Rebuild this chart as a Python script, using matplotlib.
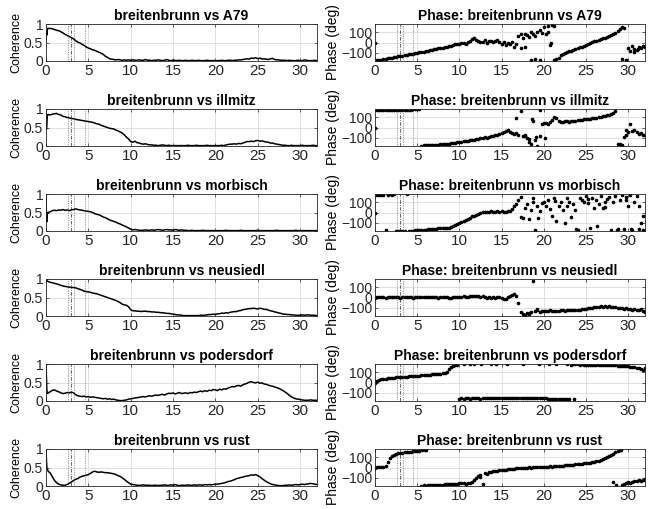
import numpy as np
import matplotlib
matplotlib.use("Agg")
import matplotlib.pyplot as plt

plt.rcParams['font.family'] = ['Liberation Sans', 'DejaVu Sans']

stations = ["A79", "illmitz", "morbisch", "neusiedl", "podersdorf", "rust"]
reference = "breitenbrunn"

# ---------- coherence: low-frequency spike region (f = 0 .. 0.2) ----------
coh_spike_f = [0.0, 0.05, 0.1, 0.15, 0.2]
coh_spike_A79 = [0.60, 0.80, 0.70, 0.85, 0.88]
coh_spike_illmitz = [0.95, 0.45, 0.60, 0.80, 0.85]
coh_spike_morbisch = [1.00, 0.30, 0.25, 0.45, 0.50]
coh_spike_neusiedl = [0.97, 0.96, 0.95, 0.95, 0.94]
coh_spike_podersdorf = [1.00, 0.60, 0.30, 0.22, 0.20]
coh_spike_rust = [1.00, 0.70, 0.50, 0.45, 0.43]

# ---------- coherence on grid f = 0.25 .. 32 (step 0.25) ----------
coh_A79 = [
    0.88, 0.88, 0.87, 0.85, 0.83, 0.82, 0.79, 0.76, 0.72, 0.69, 0.66, 0.63, 0.60, 0.55, 0.51, 0.49,
    0.45, 0.42, 0.38, 0.35, 0.33, 0.30, 0.29, 0.26, 0.24, 0.21, 0.18, 0.13, 0.10, 0.06, 0.05, 0.04,
    0.03, 0.04, 0.03, 0.02, 0.03, 0.02, 0.03, 0.02, 0.03, 0.02, 0.02, 0.03, 0.02, 0.02, 0.04, 0.02,
    0.02, 0.01, 0.02, 0.02, 0.03, 0.02, 0.01, 0.02, 0.04, 0.02, 0.01, 0.02, 0.02, 0.01, 0.02, 0.01,
    0.01, 0.02, 0.01, 0.01, 0.02, 0.01, 0.01, 0.02, 0.01, 0.01, 0.01, 0.02, 0.01, 0.01, 0.01, 0.01,
    0.01, 0.01, 0.02, 0.01, 0.01, 0.02, 0.02, 0.01, 0.02, 0.02, 0.03, 0.03, 0.04, 0.05, 0.06, 0.05,
    0.08, 0.07, 0.09, 0.06, 0.08, 0.05, 0.06, 0.05, 0.04, 0.06, 0.07, 0.04, 0.03, 0.03, 0.02, 0.02,
    0.02, 0.01, 0.02, 0.01, 0.01, 0.01, 0.02, 0.01, 0.01, 0.03, 0.02, 0.01, 0.01, 0.01, 0.02, 0.01,
]
coh_illmitz = [
    0.85, 0.84, 0.86, 0.87, 0.88, 0.85, 0.84, 0.80, 0.79, 0.77, 0.76, 0.74, 0.74, 0.72, 0.71, 0.70,
    0.69, 0.68, 0.67, 0.66, 0.65, 0.64, 0.62, 0.60, 0.59, 0.56, 0.54, 0.52, 0.50, 0.48, 0.47, 0.46,
    0.43, 0.41, 0.38, 0.35, 0.30, 0.24, 0.19, 0.12, 0.10, 0.13, 0.09, 0.08, 0.06, 0.05, 0.06, 0.04,
    0.03, 0.03, 0.02, 0.02, 0.01, 0.02, 0.03, 0.02, 0.01, 0.02, 0.01, 0.01, 0.01, 0.01, 0.01, 0.01,
    0.01, 0.01, 0.02, 0.01, 0.01, 0.01, 0.02, 0.01, 0.01, 0.01, 0.01, 0.02, 0.01, 0.01, 0.01, 0.01,
    0.01, 0.01, 0.02, 0.01, 0.03, 0.04, 0.05, 0.05, 0.06, 0.05, 0.07, 0.06, 0.08, 0.10, 0.12, 0.12,
    0.13, 0.12, 0.14, 0.15, 0.13, 0.14, 0.12, 0.11, 0.10, 0.08, 0.08, 0.06, 0.05, 0.04, 0.03, 0.02,
    0.02, 0.01, 0.01, 0.02, 0.01, 0.01, 0.01, 0.01, 0.02, 0.01, 0.01, 0.01, 0.01, 0.02, 0.01, 0.01,
]
coh_morbisch = [
    0.50, 0.52, 0.55, 0.56, 0.55, 0.57, 0.56, 0.58, 0.56, 0.57, 0.55, 0.57, 0.58, 0.60, 0.58, 0.57,
    0.56, 0.55, 0.54, 0.53, 0.52, 0.50, 0.47, 0.45, 0.44, 0.41, 0.38, 0.36, 0.33, 0.30, 0.28, 0.26,
    0.24, 0.21, 0.19, 0.16, 0.14, 0.11, 0.08, 0.05, 0.03, 0.04, 0.03, 0.02, 0.02, 0.02, 0.03, 0.02,
    0.02, 0.03, 0.02, 0.03, 0.04, 0.03, 0.02, 0.03, 0.04, 0.03, 0.03, 0.02, 0.04, 0.03, 0.02, 0.03,
    0.02, 0.02, 0.01, 0.01, 0.02, 0.01, 0.01, 0.01, 0.01, 0.02, 0.01, 0.01, 0.01, 0.01, 0.01, 0.01,
    0.01, 0.01, 0.01, 0.01, 0.02, 0.01, 0.01, 0.01, 0.01, 0.01, 0.01, 0.02, 0.01, 0.01, 0.01, 0.01,
    0.01, 0.01, 0.01, 0.02, 0.01, 0.01, 0.01, 0.01, 0.01, 0.01, 0.01, 0.01, 0.02, 0.01, 0.01, 0.01,
    0.01, 0.01, 0.01, 0.01, 0.01, 0.02, 0.01, 0.01, 0.01, 0.01, 0.01, 0.01, 0.01, 0.01, 0.01, 0.01,
]
coh_neusiedl = [
    0.93, 0.91, 0.90, 0.88, 0.87, 0.85, 0.83, 0.81, 0.80, 0.79, 0.78, 0.77, 0.77, 0.76, 0.74, 0.72,
    0.70, 0.67, 0.66, 0.65, 0.64, 0.62, 0.61, 0.60, 0.58, 0.56, 0.54, 0.52, 0.50, 0.48, 0.46, 0.44,
    0.42, 0.39, 0.36, 0.32, 0.30, 0.29, 0.25, 0.17, 0.14, 0.14, 0.13, 0.13, 0.12, 0.13, 0.13, 0.12,
    0.12, 0.11, 0.11, 0.10, 0.10, 0.09, 0.09, 0.08, 0.07, 0.07, 0.06, 0.05, 0.04, 0.03, 0.03, 0.02,
    0.01, 0.01, 0.01, 0.01, 0.01, 0.01, 0.01, 0.01, 0.02, 0.02, 0.02, 0.03, 0.04, 0.04, 0.05, 0.04,
    0.06, 0.06, 0.08, 0.07, 0.09, 0.08, 0.10, 0.11, 0.12, 0.12, 0.14, 0.15, 0.17, 0.18, 0.19, 0.20,
    0.20, 0.21, 0.20, 0.19, 0.21, 0.20, 0.18, 0.18, 0.16, 0.14, 0.13, 0.11, 0.10, 0.08, 0.07, 0.05,
    0.05, 0.04, 0.04, 0.03, 0.03, 0.02, 0.02, 0.02, 0.03, 0.02, 0.03, 0.03, 0.02, 0.02, 0.02, 0.01,
]
coh_podersdorf = [
    0.22, 0.25, 0.29, 0.30, 0.27, 0.25, 0.22, 0.20, 0.21, 0.23, 0.22, 0.24, 0.22, 0.17, 0.14, 0.13,
    0.12, 0.13, 0.11, 0.12, 0.10, 0.11, 0.10, 0.09, 0.08, 0.07, 0.06, 0.07, 0.05, 0.06, 0.04, 0.05,
    0.03, 0.02, 0.01, 0.01, 0.02, 0.03, 0.05, 0.06, 0.07, 0.08, 0.09, 0.10, 0.11, 0.12, 0.11, 0.13,
    0.14, 0.13, 0.15, 0.16, 0.15, 0.17, 0.18, 0.16, 0.19, 0.21, 0.20, 0.22, 0.19, 0.21, 0.23, 0.20,
    0.21, 0.22, 0.20, 0.23, 0.22, 0.24, 0.23, 0.25, 0.27, 0.25, 0.28, 0.26, 0.29, 0.28, 0.31, 0.30,
    0.28, 0.32, 0.30, 0.33, 0.32, 0.35, 0.37, 0.39, 0.38, 0.41, 0.42, 0.40, 0.44, 0.46, 0.48, 0.51,
    0.52, 0.50, 0.49, 0.51, 0.48, 0.49, 0.46, 0.45, 0.43, 0.41, 0.40, 0.38, 0.36, 0.34, 0.31, 0.28,
    0.24, 0.20, 0.15, 0.11, 0.08, 0.06, 0.05, 0.04, 0.03, 0.02, 0.02, 0.02, 0.03, 0.02, 0.02, 0.02,
]
coh_rust = [
    0.40, 0.35, 0.25, 0.15, 0.09, 0.05, 0.03, 0.02, 0.02, 0.04, 0.07, 0.11, 0.15, 0.18, 0.20, 0.24,
    0.26, 0.28, 0.29, 0.31, 0.34, 0.38, 0.40, 0.38, 0.37, 0.38, 0.37, 0.36, 0.36, 0.35, 0.34, 0.33,
    0.31, 0.28, 0.26, 0.22, 0.18, 0.13, 0.09, 0.05, 0.04, 0.03, 0.02, 0.02, 0.02, 0.03, 0.02, 0.02,
    0.02, 0.01, 0.02, 0.02, 0.01, 0.02, 0.02, 0.03, 0.02, 0.02, 0.03, 0.02, 0.04, 0.02, 0.01, 0.02,
    0.02, 0.02, 0.03, 0.02, 0.02, 0.03, 0.02, 0.03, 0.03, 0.02, 0.04, 0.03, 0.04, 0.03, 0.04, 0.05,
    0.05, 0.06, 0.07, 0.08, 0.10, 0.12, 0.13, 0.15, 0.17, 0.20, 0.21, 0.23, 0.24, 0.26, 0.27, 0.28,
    0.30, 0.29, 0.31, 0.28, 0.25, 0.20, 0.16, 0.12, 0.09, 0.06, 0.04, 0.03, 0.02, 0.01, 0.01, 0.01,
    0.02, 0.02, 0.03, 0.02, 0.03, 0.04, 0.03, 0.04, 0.05, 0.04, 0.05, 0.06, 0.07, 0.06, 0.05, 0.04,
]

# ---------- phase (deg) on grid f = 0 .. 32 (step 0.25) ----------
ph_A79 = [
    0, -174, -171, -167, -163, -159, -155, -151, -147, -143, -139, -136, -132, -128, -124, -120,
    -116, -112, -108, -104, -100, -96, -92, -88, -84, -80, -75, -71, -67, -62, -58, -54,
    -50, -46, -40, -36, -30, -24, -18, -12, -15, -8, -2, -10, 5, 15, 30, 42,
    25, 12, 3, 8, 20, -5, 12, 18, 2, 10, 22, 5, -12, 8, -22, -5,
    -15, 2, -42, -12, 60, 82, 40, -48, 70, 55, -172, 85, 60, 100, -168, 92,
    150, 80, 165, -20, 170, 160, -162, -150, -125, -112, -100, -92, -85, -78, -72, -62,
    -55, -48, -40, -30, -22, -14, -5, 3, 10, 18, 25, 32, 40, 47, 55, 62,
    75, 85, 90, 110, 130, -160, 140, -170, -50, -80, -30, -65, -75, -40, -55, -30,
    -45,
]
ph_illmitz = [
    0, 168, 170, 169, 170, 171, 170, 169, 170, 171, 170, 172, 171, 170, 172, 173,
    173, 174, 176, 177, 178, 179, -176, -175, -174, -173, -172, -171, -170, -168, -167, -165,
    -163, -161, -158, -156, -153, -150, -148, -145, -142, -140, -135, -132, -130, -126, -122, -118,
    -115, -110, -105, -100, -95, -98, -88, -85, -80, -75, -70, -62, -50, -40, -30, -25,
    -40, -50, -60, -55, -70, 165, -80, -85, -100, -110, -160, 60, -120, -180, 170, 30,
    45, 40, 35, 55, 70, 100, 95, 60, 50, 55, 60, 62, 58, 60, 65, 68,
    70, 72, 75, 78, 80, 82, 85, 88, 90, 95, 100, 105, 110, 115, 120, 125,
    130, 145, 160, -165, -160, -170, -90, -70, -40, 30, -30, -20, -45, -60, -50, -70,
    -75,
]
ph_morbisch = [
    0, 174, 175, 174, 175, -170, 175, 176, 175, 176, -178, -177, -178, -177, -178, 176,
    -178, -177, -176, -175, -174, -172, -170, -169, -167, -165, -163, -161, -159, -157, -155, -153,
    -151, -150, -148, -146, -140, -130, -120, -110, -105, -95, -85, -75, -62, -50, -38, -30,
    -20, -10, 0, 5, 2, 8, 5, 10, 3, 8, 12, 6, 10, 5, 8, 10,
    15, 30, 60, 80, 120, 150, -50, 40, 80, -60, 20, 100, -170, 60, 10, 90,
    100, 60, 120, 30, -30, 140, -80, 60, 100, 20, -100, 60, 100, -40, 80, 20,
    -170, 140, 120, 100, 160, 90, -150, 140, 40, 120, 80, 160, 40, 100, 130, 150,
    -170, 100, 160, -160, 120, 170, -165, 150, 60, 170, -170, 100, 160, -160, -100, -30,
    -180,
]
ph_neusiedl = [
    0, 2, 1, 2, 1, 0, 2, 1, 2, 1, 2, 1, 0, 2, 1, 2,
    1, 2, 0, 1, 2, 1, 3, 2, 1, 2, 3, 2, 1, 2, 0, 3,
    2, 4, 5, -5, 0, 6, 8, 2, 5, 6, 10, 8, 5, 10, 12, 10,
    15, 18, 8, 12, 6, 0, 5, -5, 2, 0, 3, 5, 0, -10, -15, 5,
    10, 25, 38, 15, -55, -140, -160, -170, -150, -165, -140, 160, -135, -125, -140, -130,
    -135, -128, -132, -125, -130, -128, -127, -130, -126, -125, -128, -124, -126, -122, -125, -120,
    -120, -118, -115, -112, -108, -105, -100, -98, -95, -92, -90, -86, -88, -84, -90, -85,
    -88, -92, -95, -100, -98, -105, -110, -100, -115, -108, -120, -112, -118, -125, -115, -130,
    -140,
]
ph_podersdorf = [
    0, 15, 25, 30, 35, 38, 40, 42, 45, 48, 50, 52, 53, 55, 56, 58,
    60, 62, 63, 65, 67, 68, 70, 72, 73, 75, 76, 78, 80, 82, 84, 85,
    88, 92, 100, 130, 150, 160, 172, 175, -158, -155, -156, -154, -155, -156, -154, -155,
    -155, -154, -156, -155, -153, -154, -155, -152, -154, -153, -152, -151, -153, -150, -152, -151,
    -150, -152, -151, -150, -152, -151, -153, -152, -150, -148, -151, -153, -152, -154, -155, -153,
    -155, -154, -156, -157, -156, -158, -159, -160, -158, -160, -161, -160, -162, 175, 176, 177,
    176, 175, 176, 175, 174, 175, 174, 173, 174, 172, 173, 172, 171, 170, 171, 169,
    168, 167, 166, 165, 163, 162, 160, 158, 156, 153, 150, 147, 143, 138, 130, 120,
    140,
]
ph_rust = [
    0, 5, 6, 8, 7, 10, 50, 90, 110, 125, 135, 140, 142, 145, 148, 150,
    152, 155, 158, 160, 162, 164, -176, -175, -176, -174, -173, -172, -172, -170, -169, -168,
    -166, -165, -163, -162, -160, -158, -157, -156, -155, -154, -155, -156, -153, -150, -140, -125,
    -100, -80, -70, -160, -55, -60, -45, -40, -35, -38, -30, -28, -25, -22, -20, -18,
    -15, -12, -10, -8, -5, -6, -3, 0, -2, 2, 0, 3, 5, 2, 4, 6,
    5, 7, 8, 10, 8, 12, 14, 15, 17, 18, 20, 22, 24, 25, 27, 30,
    32, 35, 37, 40, 42, 45, 48, 52, 55, 60, 65, 72, 80, 90, 100, 110,
    120, 135, 150, 165, 170, -170, -160, -150, -145, -150, -140, -135, -130, -125, -128, -120,
    -115,
]

# additional scattered phase points (frequency, phase)
ex_f_A79 = [17.3, 17.8, 18.5, 19.0, 19.5, 20.5, 20.8, 21.2, 29.3, 30.7, 31.2]
ex_p_A79 = [-50, 80, 100, -160, 120, 100, 0, -170, 150, -90, -60]
ex_f_illmitz = [16.7, 17.8, 18.2, 18.6, 19.1, 19.6, 20.2, 29.8]
ex_p_illmitz = [90, -70, -140, 80, -90, -80, -100, -20]
ex_f_morbisch = [17.3, 18.7, 19.3, 21.3, 22.7, 23.8, 25.3, 26.3, 27.2, 28.7, 29.7, 30.3, 31.3, 31.8]
ex_p_morbisch = [-40, 140, -50, 110, 140, -165, 130, -130, 50, -170, 120, -160, 60, -170]
ex_f_neusiedl = [17.6, 18.2, 19.2]
ex_p_neusiedl = [-175, -150, -110]
ex_f_podersdorf = [10.5, 11.2, 11.7, 12.6, 13.7, 14.3, 15.6, 17.5, 19.4, 20.6, 21.4, 22.8, 23.6]
ex_p_podersdorf = [176, 176, 177, 176, 177, 176, 177, 177, 176, 177, 176, 177, -162]
ex_f_rust = [5.6, 5.9, 6.1, 12.4, 28.2, 28.6, 29.1]
ex_p_rust = [167, 170, 172, -90, -140, -170, 172]

# reference frequency markers
mark_dotted = [2.55, 3.3, 4.55]
mark_dashdot = [3.0]

xticks = [0, 5, 10, 15, 20, 25, 30]

coh_all = [coh_A79, coh_illmitz, coh_morbisch, coh_neusiedl, coh_podersdorf, coh_rust]
spk_all = [coh_spike_A79, coh_spike_illmitz, coh_spike_morbisch, coh_spike_neusiedl,
           coh_spike_podersdorf, coh_spike_rust]
ph_all = [ph_A79, ph_illmitz, ph_morbisch, ph_neusiedl, ph_podersdorf, ph_rust]
exf_all = [ex_f_A79, ex_f_illmitz, ex_f_morbisch, ex_f_neusiedl, ex_f_podersdorf, ex_f_rust]
exp_all = [ex_p_A79, ex_p_illmitz, ex_p_morbisch, ex_p_neusiedl, ex_p_podersdorf, ex_p_rust]

W, H = 649, 509
fig = plt.figure(figsize=(W / 100, H / 100), dpi=100)

axcol = '#262626'
gridc = '#dcdcdc'


def style(ax):
    ax.set_xlim(0, 32)
    ax.set_xticks(xticks)
    ax.tick_params(direction='in', length=2, width=0.5, colors=axcol,
                   top=True, right=True, pad=2)
    ax.tick_params(axis='x', labelsize=11)
    ax.tick_params(axis='y', labelsize=10)
    ax.grid(True, color=gridc, linewidth=0.6)
    ax.set_axisbelow(True)
    for s in ax.spines.values():
        s.set_color(axcol)
        s.set_linewidth(0.6)
    for v in mark_dotted:
        ax.axvline(v, color='#444444', linestyle=(0, (1, 1.5)), linewidth=0.5)
    for v in mark_dashdot:
        ax.axvline(v, color='#222222', linestyle=(0, (5, 2, 1, 2)), linewidth=0.5)


for i, st in enumerate(stations):
    top = 24 + 85 * i
    bottom = 61 + 85 * i
    yb = 1 - bottom / H
    hh = (bottom - top) / H

    # coherence
    ax = fig.add_axes([46 / W, yb, 271 / W, hh])
    f_grid = np.linspace(0.25, 32, len(coh_all[i]))
    f = np.concatenate([coh_spike_f, f_grid])
    c = np.concatenate([spk_all[i], coh_all[i]])
    ax.plot(f, c, color='black', linewidth=1.1)
    ax.set_ylim(0, 1)
    ax.set_yticks([0, 0.5, 1])
    ax.set_yticklabels(['0', '0.5', '1'])
    style(ax)
    ax.set_title(f"{reference} vs {st}", fontsize=10, fontweight='bold', pad=3)
    ax.set_ylabel("Coherence", fontsize=9, labelpad=1)

    # phase
    ax2 = fig.add_axes([375 / W, yb, 270 / W, hh])
    fp = np.linspace(0, 32, len(ph_all[i]))
    ax2.plot(fp, ph_all[i], linestyle='none', marker='.', markersize=3.2, color='black')
    ax2.plot(exf_all[i], exp_all[i], linestyle='none', marker='.', markersize=3.2, color='black')
    ax2.set_ylim(-180, 180)
    ax2.set_yticks([-100, 0, 100])
    style(ax2)
    ax2.set_title(f"Phase: {reference} vs {st}", fontsize=10, fontweight='bold', pad=3)
    ax2.set_ylabel("Phase (deg)", fontsize=10, labelpad=1)

fig.savefig("out.png", dpi=100, facecolor='white')
